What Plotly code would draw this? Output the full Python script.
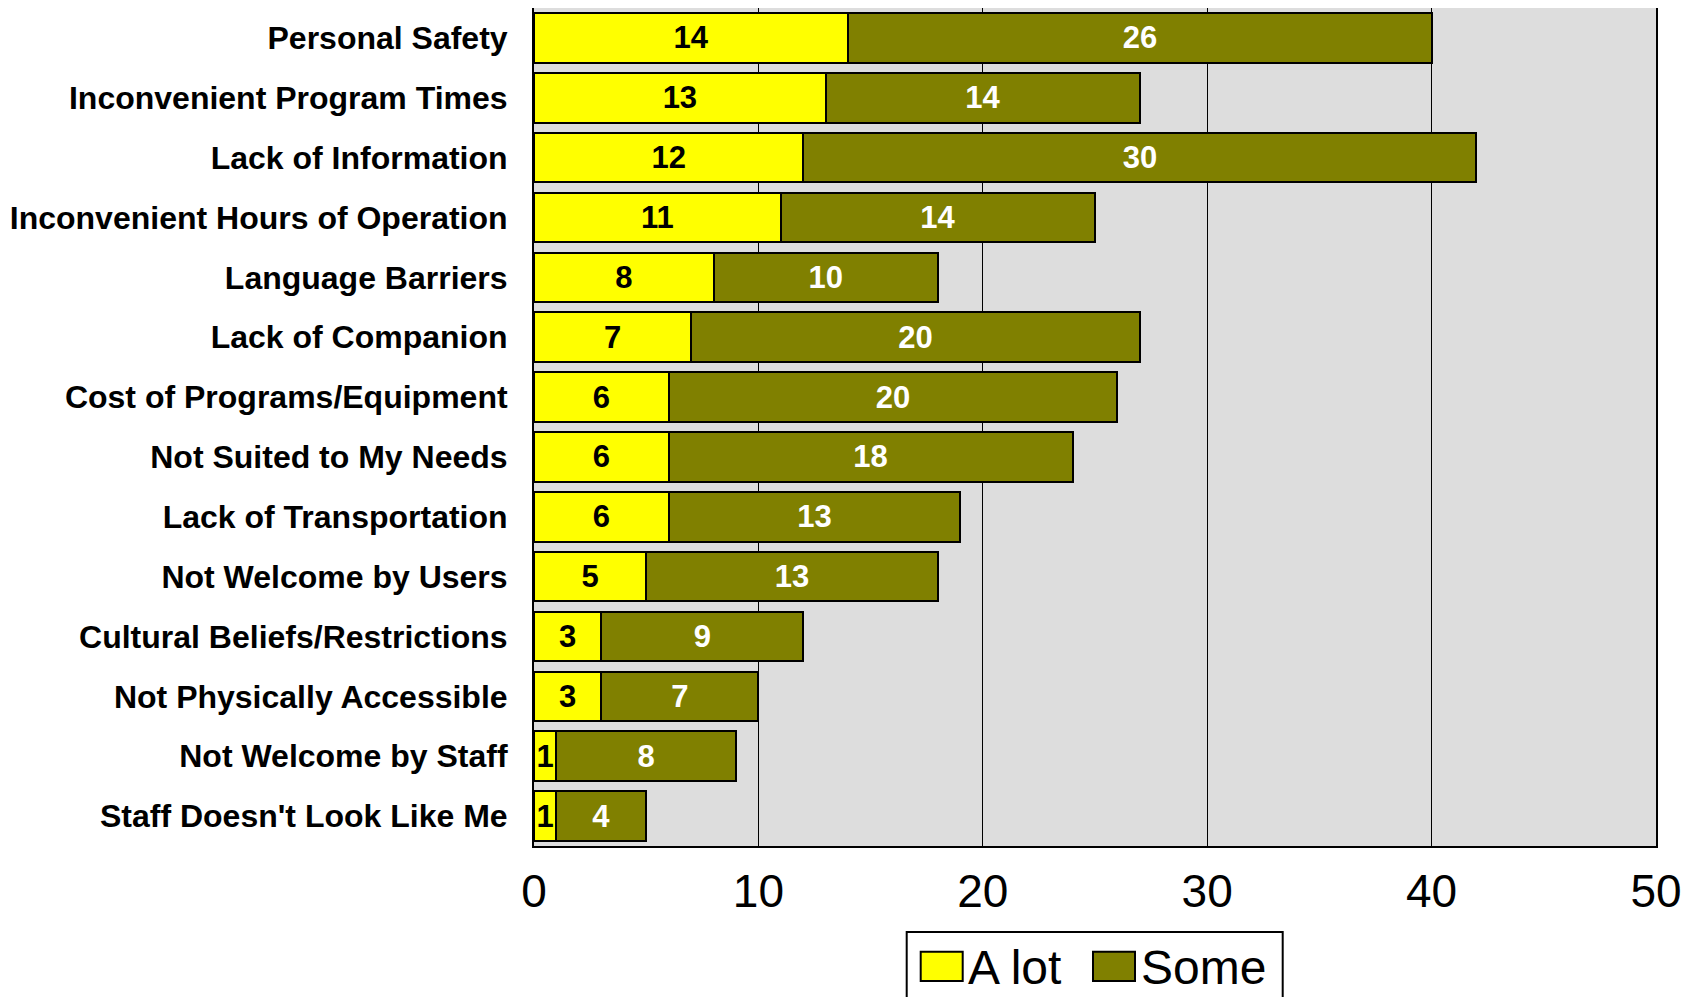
import plotly.graph_objects as go

categories = ["Personal Safety", "Inconvenient Program Times", "Lack of Information",
              "Inconvenient Hours of Operation", "Language Barriers", "Lack of Companion",
              "Cost of Programs/Equipment", "Not Suited to My Needs", "Lack of Transportation",
              "Not Welcome by Users", "Cultural Beliefs/Restrictions", "Not Physically Accessible",
              "Not Welcome by Staff", "Staff Doesn't Look Like Me"]
a_lot = [14, 13, 12, 11, 8, 7, 6, 6, 6, 5, 3, 3, 1, 1]
some = [26, 14, 30, 14, 10, 20, 20, 18, 13, 13, 9, 7, 8, 4]
x_ticks = [0, 10, 20, 30, 40, 50]
series_names = ["A lot", "Some"]
series_colors = ["#FFFF00", "#808000"]

FONT = "Liberation Sans Narrow, Arial Narrow, Liberation Sans, Arial, sans-serif"

# page has an 8px body margin, so figure coords = page coords - 8
OFF = 8
W, H = 1694, 997
ML, MR, MT, MB = 534 - OFF, 1694 - (1656 - OFF), 0, 997 - (846 - OFF)
PW, PH = W - ML - MR, H - MT - MB


def px_x(p):
    return (p - OFF - ML) / PW


def px_y(p):
    return (H - MB - (p - OFF)) / PH


fig = go.Figure()
for vals, name, col, tcol in [(a_lot, series_names[0], series_colors[0], "black"),
                              (some, series_names[1], series_colors[1], "white")]:
    fig.add_trace(go.Bar(
        y=categories, x=vals, orientation="h", name=name, showlegend=False,
        marker=dict(color=col, line=dict(color="black", width=2)),
        text=vals, texttemplate="<b>%{text}</b>", textposition="inside",
        insidetextanchor="middle", textangle=0,
        textfont=dict(color=tcol, size=31, family=FONT),
    ))

# manual legend (box, swatches, labels) in page pixel positions
shapes = [dict(type="rect", xref="paper", yref="paper",
               x0=px_x(906.7), x1=px_x(1282.7), y0=px_y(932), y1=px_y(1020),
               line=dict(color="black", width=2), fillcolor="white", layer="above")]
annotations = []
sw_x = [920.7, 1093]
tx_x = [966, 1139]
for i in range(2):
    shapes.append(dict(type="rect", xref="paper", yref="paper",
                       x0=px_x(sw_x[i]), x1=px_x(sw_x[i] + 42), y0=px_y(951.7), y1=px_y(981),
                       line=dict(color="black", width=2), fillcolor=series_colors[i],
                       layer="above"))
    annotations.append(dict(xref="paper", yref="paper", x=px_x(tx_x[i]), y=px_y(967),
                            xanchor="left", yanchor="middle", showarrow=False,
                            text=series_names[i],
                            font=dict(size=48, family="Liberation Sans, Arial, sans-serif",
                                      color="black")))

fig.update_layout(
    barmode="stack",
    bargap=0.17,
    width=W, height=H,
    margin=dict(l=ML, r=MR, t=MT, b=MB, autoexpand=False),
    paper_bgcolor="white",
    plot_bgcolor="#DDDDDD",
    font=dict(family=FONT, color="black"),
    uniformtext=dict(minsize=31, mode="show"),
    showlegend=False,
    shapes=shapes,
    annotations=annotations,
    xaxis=dict(
        range=[0, 50], tickvals=x_ticks, ticktext=[str(v) for v in x_ticks],
        showgrid=True, gridcolor="black", gridwidth=1,
        showline=True, linecolor="black", linewidth=2, mirror=True,
        ticks="", tickfont=dict(size=46, family="Liberation Sans, Arial, sans-serif"),
        zeroline=False, automargin=False, ticklabelstandoff=4,
    ),
    yaxis=dict(
        categoryorder="array", categoryarray=categories, autorange="reversed",
        showline=True, linecolor="black", linewidth=2, mirror=True,
        ticks="", tickfont=dict(size=32, family=FONT), ticklabelstandoff=18,
        tickprefix="<b>", ticksuffix="</b>", automargin=False,
    ),
)

fig.write_html("out.html")
